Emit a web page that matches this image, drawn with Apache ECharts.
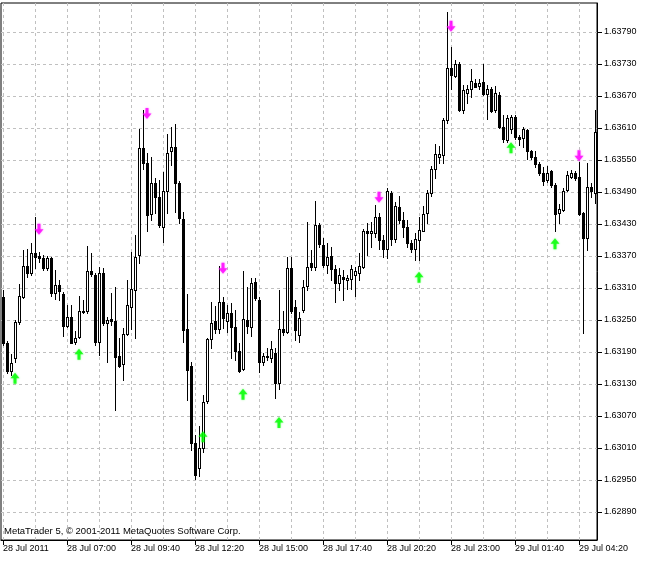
<!DOCTYPE html>
<html><head><meta charset="utf-8">
<script src="https://cdn.jsdelivr.net/npm/echarts@6/dist/echarts.min.js"></script>
<style>html,body{margin:0;padding:0;background:#fff}#c{width:650px;height:561px}</style>
</head><body><div id="c"></div>
<script>
// ---- data (M10 bars) ----
const opens = [1.63293,1.63207,1.63155,1.63178,1.63246,1.63294,1.63351,1.63338,1.63375,1.63370,
1.63367,1.63347,1.63366,1.63300,1.63316,1.63299,1.63239,1.63255,1.63208,1.63218,
1.63267,1.63266,1.63342,1.63334,1.63209,1.63339,1.63245,1.63252,1.63248,1.63183,
1.63167,1.63223,1.63275,1.63306,1.63371,1.63572,1.63544,1.63448,1.63507,1.63480,
1.63424,1.63491,1.63566,1.63574,1.63506,1.63439,1.63234,1.63164,1.63019,1.62973,
1.63010,1.63099,1.63214,1.63249,1.63233,1.63284,1.63249,1.63263,1.63236,1.63192,
1.63159,1.63250,1.63236,1.63321,1.63288,1.63172,1.63183,1.63178,1.63189,1.63131,
1.63233,1.63228,1.63347,1.63275,1.63222,1.63269,1.63314,1.63357,1.63349,1.63428,
1.63391,1.63353,1.63370,1.63345,1.63320,1.63330,1.63325,1.63326,1.63334,1.63339,
1.63349,1.63417,1.63414,1.63413,1.63443,1.63400,1.63383,1.63489,1.63401,1.63461,
1.63438,1.63425,1.63395,1.63384,1.63400,1.63417,1.63450,1.63489,1.63534,1.63556,
1.63559,1.63625,1.63722,1.63708,1.63730,1.63644,1.63676,1.63683,1.63695,1.63689,
1.63696,1.63674,1.63684,1.63644,1.63672,1.63611,1.63588,1.63609,1.63630,1.63594,
1.63591,1.63606,1.63566,1.63555,1.63543,1.63526,1.63512,1.63530,1.63503,1.63451,
1.63456,1.63494,1.63519,1.63526,1.63519,1.63451,1.63403,1.63499,1.63489];
const highs = [1.63306,1.63211,1.63186,1.63250,1.63317,1.63381,1.63384,1.63395,1.63444,1.63378,
1.63372,1.63370,1.63368,1.63344,1.63325,1.63303,1.63278,1.63278,1.63229,1.63295,
1.63288,1.63389,1.63375,1.63338,1.63350,1.63348,1.63256,1.63300,1.63311,1.63216,
1.63235,1.63325,1.63378,1.63409,1.63609,1.63644,1.63564,1.63556,1.63516,1.63512,
1.63527,1.63598,1.63611,1.63617,1.63511,1.63453,1.63299,1.63172,1.63034,1.63051,
1.63109,1.63216,1.63284,1.63276,1.63351,1.63294,1.63279,1.63281,1.63269,1.63206,
1.63341,1.63312,1.63328,1.63328,1.63294,1.63189,1.63197,1.63211,1.63197,1.63306,
1.63266,1.63369,1.63369,1.63288,1.63265,1.63325,1.63434,1.63381,1.63474,1.63431,
1.63403,1.63394,1.63387,1.63354,1.63347,1.63344,1.63334,1.63353,1.63350,1.63375,
1.63421,1.63432,1.63434,1.63466,1.63450,1.63409,1.63497,1.63492,1.63472,1.63483,
1.63453,1.63438,1.63400,1.63413,1.63444,1.63464,1.63494,1.63539,1.63580,1.63576,
1.63628,1.63828,1.63762,1.63738,1.63734,1.63691,1.63691,1.63720,1.63701,1.63701,
1.63730,1.63691,1.63687,1.63689,1.63678,1.63634,1.63634,1.63634,1.63634,1.63597,
1.63611,1.63608,1.63569,1.63566,1.63547,1.63537,1.63539,1.63531,1.63506,1.63468,
1.63497,1.63530,1.63531,1.63530,1.63547,1.63453,1.63544,1.63506,1.63644];
const lows = [1.63203,1.63151,1.63147,1.63172,1.63242,1.63291,1.63331,1.63334,1.63348,1.63359,
1.63344,1.63344,1.63295,1.63289,1.63288,1.63220,1.63237,1.63206,1.63205,1.63216,
1.63263,1.63263,1.63333,1.63203,1.63184,1.63241,1.63172,1.63241,1.63081,1.63162,
1.63138,1.63222,1.63234,1.63216,1.63356,1.63534,1.63417,1.63437,1.63450,1.63424,
1.63397,1.63450,1.63541,1.63452,1.63431,1.63209,1.63100,1.63006,1.62952,1.62958,
1.63003,1.63094,1.63197,1.63225,1.63226,1.63235,1.63228,1.63178,1.63175,1.63153,
1.63156,1.63225,1.63220,1.63288,1.63153,1.63166,1.63175,1.63172,1.63103,1.63120,
1.63222,1.63226,1.63263,1.63212,1.63209,1.63265,1.63306,1.63344,1.63344,1.63387,
1.63350,1.63338,1.63325,1.63284,1.63306,1.63288,1.63308,1.63309,1.63295,1.63325,
1.63347,1.63372,1.63386,1.63406,1.63384,1.63368,1.63366,1.63391,1.63397,1.63431,
1.63406,1.63387,1.63378,1.63362,1.63362,1.63432,1.63432,1.63483,1.63517,1.63544,
1.63544,1.63619,1.63684,1.63706,1.63642,1.63638,1.63656,1.63669,1.63686,1.63684,
1.63672,1.63626,1.63640,1.63640,1.63610,1.63584,1.63584,1.63600,1.63589,1.63578,
1.63575,1.63551,1.63551,1.63537,1.63522,1.63503,1.63509,1.63500,1.63416,1.63432,
1.63455,1.63491,1.63516,1.63512,1.63447,1.63225,1.63381,1.63481,1.63469];
const closes = [1.63207,1.63155,1.63169,1.63246,1.63295,1.63351,1.63338,1.63375,1.63369,1.63366,
1.63347,1.63367,1.63300,1.63316,1.63304,1.63239,1.63255,1.63207,1.63216,1.63267,
1.63266,1.63342,1.63336,1.63209,1.63339,1.63244,1.63250,1.63248,1.63181,1.63164,
1.63223,1.63279,1.63308,1.63369,1.63572,1.63544,1.63447,1.63506,1.63481,1.63428,
1.63492,1.63564,1.63574,1.63506,1.63441,1.63231,1.63156,1.63019,1.62959,1.63010,
1.63097,1.63214,1.63245,1.63233,1.63284,1.63253,1.63263,1.63236,1.63191,1.63155,
1.63251,1.63239,1.63319,1.63291,1.63172,1.63183,1.63180,1.63195,1.63132,1.63233,
1.63228,1.63347,1.63266,1.63231,1.63254,1.63311,1.63350,1.63349,1.63428,1.63392,
1.63353,1.63368,1.63345,1.63319,1.63334,1.63327,1.63328,1.63345,1.63341,1.63351,
1.63417,1.63414,1.63416,1.63443,1.63400,1.63383,1.63491,1.63401,1.63464,1.63438,
1.63425,1.63394,1.63383,1.63401,1.63419,1.63449,1.63489,1.63534,1.63561,1.63561,
1.63625,1.63722,1.63709,1.63730,1.63644,1.63681,1.63684,1.63698,1.63687,1.63694,
1.63674,1.63683,1.63642,1.63676,1.63612,1.63589,1.63628,1.63630,1.63594,1.63589,
1.63608,1.63566,1.63555,1.63543,1.63525,1.63511,1.63526,1.63503,1.63449,1.63458,
1.63492,1.63522,1.63525,1.63516,1.63449,1.63403,1.63499,1.63491,1.63603];

const timeLabels = ['28 Jul 2011','28 Jul 07:00','28 Jul 09:40','28 Jul 12:20','28 Jul 15:00',
  '28 Jul 17:40','28 Jul 20:20','28 Jul 23:00','29 Jul 01:40','29 Jul 04:20'];
const priceTicks = [1.62890,1.62950,1.63010,1.63070,1.63130,1.63190,1.63250,1.63310,
  1.63370,1.63430,1.63490,1.63550,1.63610,1.63670,1.63730,1.63790];

const sellIdx = [9, 36, 55, 94, 112, 144];
const sellPrice = [1.63420, 1.63637, 1.63347, 1.63480, 1.63801, 1.63558];
const buyIdx = [3, 19, 50, 60, 69, 104, 127, 138];
const buyPrice = [1.63141, 1.63186, 1.63031, 1.63111, 1.63058, 1.63330, 1.63573, 1.63393];

// ---- chart ----
const barIdx = opens.map((_, i) => i);
const candleData = opens.map((o, i) => [i, o, highs[i], lows[i], closes[i]]);
const FONT = '"Liberation Sans", Arial, sans-serif';

function renderCandle(params, api) {
  const i = api.value(0);
  const o = api.value(1), h = api.value(2), l = api.value(3), c = api.value(4);
  const pO = api.coord([i, o]);
  const x = Math.round(pO[0]);
  const yO = Math.round(pO[1]);
  const yC = Math.round(api.coord([i, c])[1]);
  const yH = Math.round(api.coord([i, h])[1]);
  const yL = Math.round(api.coord([i, l])[1]);
  const top = Math.min(yO, yC), bot = Math.max(yO, yC);
  const bh = Math.max(bot - top, 1) + 1;
  const children = [
    {type: 'rect', shape: {x: x, y: yH, width: 1, height: yL - yH + 1}, style: {fill: '#000'}},
    {type: 'rect', shape: {x: x - 1, y: top, width: 3, height: bh}, style: {fill: '#000'}}
  ];
  if (c > o && bh > 2) {
    children.push({type: 'rect', shape: {x: x, y: top + 1, width: 1, height: bh - 2}, style: {fill: '#fff'}});
  }
  return {type: 'group', children: children};
}

const downArrow = 'path://M3,0 L6,0 L6,5 L9,5 L4.5,10 L0,5 L3,5 Z';
const upArrow = 'path://M4.5,0 L9,5 L6,5 L6,10 L3,10 L3,5 L0,5 Z';

const chart = echarts.init(document.getElementById('c'), null, {renderer: 'canvas'});
chart.setOption({
  animation: false,
  backgroundColor: '#fff',
  grid: {left: 1, right: 53, top: 3, bottom: 21, show: true, borderColor: '#000', borderWidth: 1, backgroundColor: '#fff'},
  xAxis: {
    type: 'category', data: barIdx, boundaryGap: true,
    axisLine: {show: true, lineStyle: {color: '#000', width: 1}},
    axisTick: {show: true, alignWithLabel: true, interval: (i) => i % 16 === 0, length: 5, lineStyle: {color: '#000'}},
    axisLabel: {interval: (i) => i % 16 === 0, formatter: (v, i) => timeLabels[i / 16], align: 'left',
      color: '#000', fontSize: 9, fontFamily: FONT, margin: 4},
    splitLine: {show: true, interval: (i) => i % 8 === 0, alignWithLabel: true,
      lineStyle: {color: '#c0c0c0', type: [3, 3], width: 1}}
  },
  yAxis: {
    type: 'value', position: 'right', min: 1.628375, max: 1.6384438, scale: true,
    axisLine: {show: true, lineStyle: {color: '#000', width: 1}},
    axisTick: {show: true, customValues: priceTicks, length: 5, lineStyle: {color: '#000'}},
    axisLabel: {customValues: priceTicks, formatter: (v) => v.toFixed(5), color: '#000',
      fontSize: 9, fontFamily: FONT, margin: 7},
    splitLine: {show: true, lineStyle: {color: '#c0c0c0', type: [3, 3], width: 1}}
  },
  graphic: [{
    type: 'text', left: 4, top: 526, z: 10,
    style: {text: 'MetaTrader 5, © 2001-2011 MetaQuotes Software Corp.', font: '9.5px ' + FONT, fill: '#000'}
  }],
  series: [
    {type: 'custom', name: 'bars', data: candleData, renderItem: renderCandle,
      encode: {x: 0, y: [1, 2, 3, 4]}, clip: true, z: 2},
    {type: 'scatter', name: 'sell', data: sellIdx.map((b, k) => [b, sellPrice[k]]),
      symbol: downArrow, symbolSize: [9, 11], z: 3,
      itemStyle: {color: '#ff00ff', shadowColor: 'rgba(255,0,255,0.6)', shadowBlur: 2}},
    {type: 'scatter', name: 'buy', data: buyIdx.map((b, k) => [b, buyPrice[k]]),
      symbol: upArrow, symbolSize: [9, 11], z: 3,
      itemStyle: {color: '#00ff00', shadowColor: 'rgba(0,255,0,0.6)', shadowBlur: 2}}
  ]
});
</script>
</body></html>
